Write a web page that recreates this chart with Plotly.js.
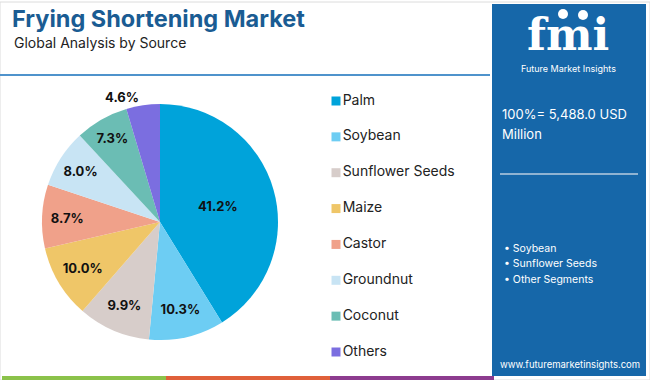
<!DOCTYPE html>
<html>
<head>
<meta charset="utf-8">
<script src="https://cdn.plot.ly/plotly-3.0.1.min.js"></script>
<style>html,body{margin:0;padding:0;background:#fff;}#chart{width:650px;height:380px;}</style>
</head>
<body>
<div id="chart"></div>
<script>
var categories = ["Palm", "Soybean", "Sunflower Seeds", "Maize", "Castor", "Groundnut", "Coconut", "Others"];
var shares = [41.2, 10.3, 9.9, 10.0, 8.7, 8.0, 7.3, 4.6];
var colors = ["#00a3da", "#6dcdf3", "#d7cdca", "#efc668", "#f0a18a", "#c8e4f4", "#6bbdb4", "#7b6ee0"];
var textPositions = ["inside", "inside", "inside", "inside", "inside", "inside", "inside", "outside"];
var legendOrder = [0, 1, 2, 3, 4, 5, 6, 7];
var panelBullets = ["• Soybean", "• Sunflower Seeds", "• Other Segments"];
var totalLines = ["100%= 5,488.0 USD", "Million"];

var fontFam = "Inter, 'Noto Sans', sans-serif";

var pie = {
  type: "pie",
  labels: categories,
  values: shares,
  sort: false,
  direction: "clockwise",
  rotation: 0,
  marker: {colors: colors, line: {width: 0}},
  texttemplate: "%{value:.1f}%",
  textposition: textPositions,
  insidetextorientation: "horizontal",
  textfont: {family: fontFam, size: 13, color: "#111", weight: "bold"},
  outsidetextfont: {family: fontFam, size: 13, color: "#111", weight: "bold"},
  domain: {x: [42/650, 278/650], y: [1 - 340/380, 1 - 104/380]},
  showlegend: false,
  hoverinfo: "label+percent"
};

var legendTrace = {
  type: "scatter",
  mode: "markers+text",
  x: legendOrder.map(function(){ return 0; }),
  y: legendOrder,
  text: categories,
  textposition: "middle right",
  textfont: {family: fontFam, size: 14, color: "#222"},
  marker: {symbol: "square", size: 9, color: colors},
  xaxis: "x2", yaxis: "y2",
  cliponaxis: false,
  showlegend: false,
  hoverinfo: "text"
};

var shapes = [
  {type: "rect", xref: "paper", yref: "paper", x0: 0, x1: 1, y0: 0, y1: 1 - 2/380, line: {color: "#dcdcdc", width: 1}, layer: "below"},
  {type: "line", xref: "paper", yref: "paper", x0: 0, x1: 490/650, y0: 1 - 75/380, y1: 1 - 75/380, line: {color: "#4f93cc", width: 2}},
  {type: "rect", xref: "paper", yref: "paper", x0: 492/650, x1: 646/650, y0: 1 - 376/380, y1: 1 - 4/380, fillcolor: "#1667a9", line: {width: 0}, layer: "below"},
  {type: "line", xref: "paper", yref: "paper", x0: 500/650, x1: 638/650, y0: 1 - 174/380, y1: 1 - 174/380, line: {color: "#b9cde0", width: 1.5}},
  {type: "rect", xref: "paper", yref: "paper", x0: 2/650, x1: 166/650, y0: 0, y1: 4/380, fillcolor: "#8bc24a", line: {width: 0}},
  {type: "rect", xref: "paper", yref: "paper", x0: 166/650, x1: 330/650, y0: 0, y1: 4/380, fillcolor: "#e0603a", line: {width: 0}},
  {type: "rect", xref: "paper", yref: "paper", x0: 330/650, x1: 494/650, y0: 0, y1: 4/380, fillcolor: "#8d3c8f", line: {width: 0}},
  {type: "circle", xref: "paper", yref: "paper", x0: 558/650, x1: 568/650, y0: 1 - 19/380, y1: 1 - 9/380, fillcolor: "#ffffff", line: {width: 0}},
  {type: "circle", xref: "paper", yref: "paper", x0: 578/650, x1: 588/650, y0: 1 - 20/380, y1: 1 - 10/380, fillcolor: "#ffffff", line: {width: 0}}
];

var annotations = [
  {xref: "paper", yref: "paper", x: 12/650, y: 1 - 42/380, xanchor: "left", yanchor: "middle", showarrow: false,
   text: "Global Analysis by Source", font: {family: fontFam, size: 14, color: "#222"}},
  {xref: "paper", yref: "paper", x: 568/650, y: 1 - 34/380, xanchor: "center", yanchor: "middle", showarrow: false,
   text: "<b>fmi</b>", font: {family: "'DejaVu Serif', serif", size: 44, color: "#ffffff"}},
  {xref: "paper", yref: "paper", x: 568/650, y: 1 - 68/380, xanchor: "center", yanchor: "middle", showarrow: false,
   text: "Future Market Insights", font: {family: fontFam, size: 9, color: "#ffffff"}}
];
totalLines.forEach(function(t, i){
  annotations.push({xref: "paper", yref: "paper", x: 500/650, y: 1 - (114 + i*20)/380, xanchor: "left", yanchor: "middle", showarrow: false,
    text: t, font: {family: fontFam, size: 13, color: "#ffffff"}});
});
panelBullets.forEach(function(t, i){
  annotations.push({xref: "paper", yref: "paper", x: 502/650, y: 1 - (248 + i*15.5)/380, xanchor: "left", yanchor: "middle", showarrow: false,
    text: t, font: {family: fontFam, size: 10.5, color: "#ffffff"}});
});
annotations.push({xref: "paper", yref: "paper", x: 570/650, y: 1 - 364/380, xanchor: "center", yanchor: "middle", showarrow: false,
  text: "www.futuremarketinsights.com", font: {family: fontFam, size: 9.5, color: "#ffffff"}});

var layout = {
  width: 650, height: 380,
  margin: {l: 0, r: 0, t: 0, b: 0},
  paper_bgcolor: "#ffffff", plot_bgcolor: "rgba(0,0,0,0)",
  title: {text: "<b>Frying Shortening Market</b>", x: 12/650, xanchor: "left", y: 1 - 19/380, yanchor: "middle",
          font: {family: fontFam, size: 23.5, color: "#1a5c93"}},
  xaxis2: {domain: [336/650, 0.8], range: [0, 1], visible: false, fixedrange: true},
  yaxis2: {domain: [1 - 352/380, 1 - 101/380], range: [7, 0], visible: false, fixedrange: true},
  shapes: shapes,
  annotations: annotations,
  showlegend: false
};

Plotly.newPlot("chart", [pie, legendTrace], layout, {displayModeBar: false, staticPlot: true});
</script>
</body>
</html>
